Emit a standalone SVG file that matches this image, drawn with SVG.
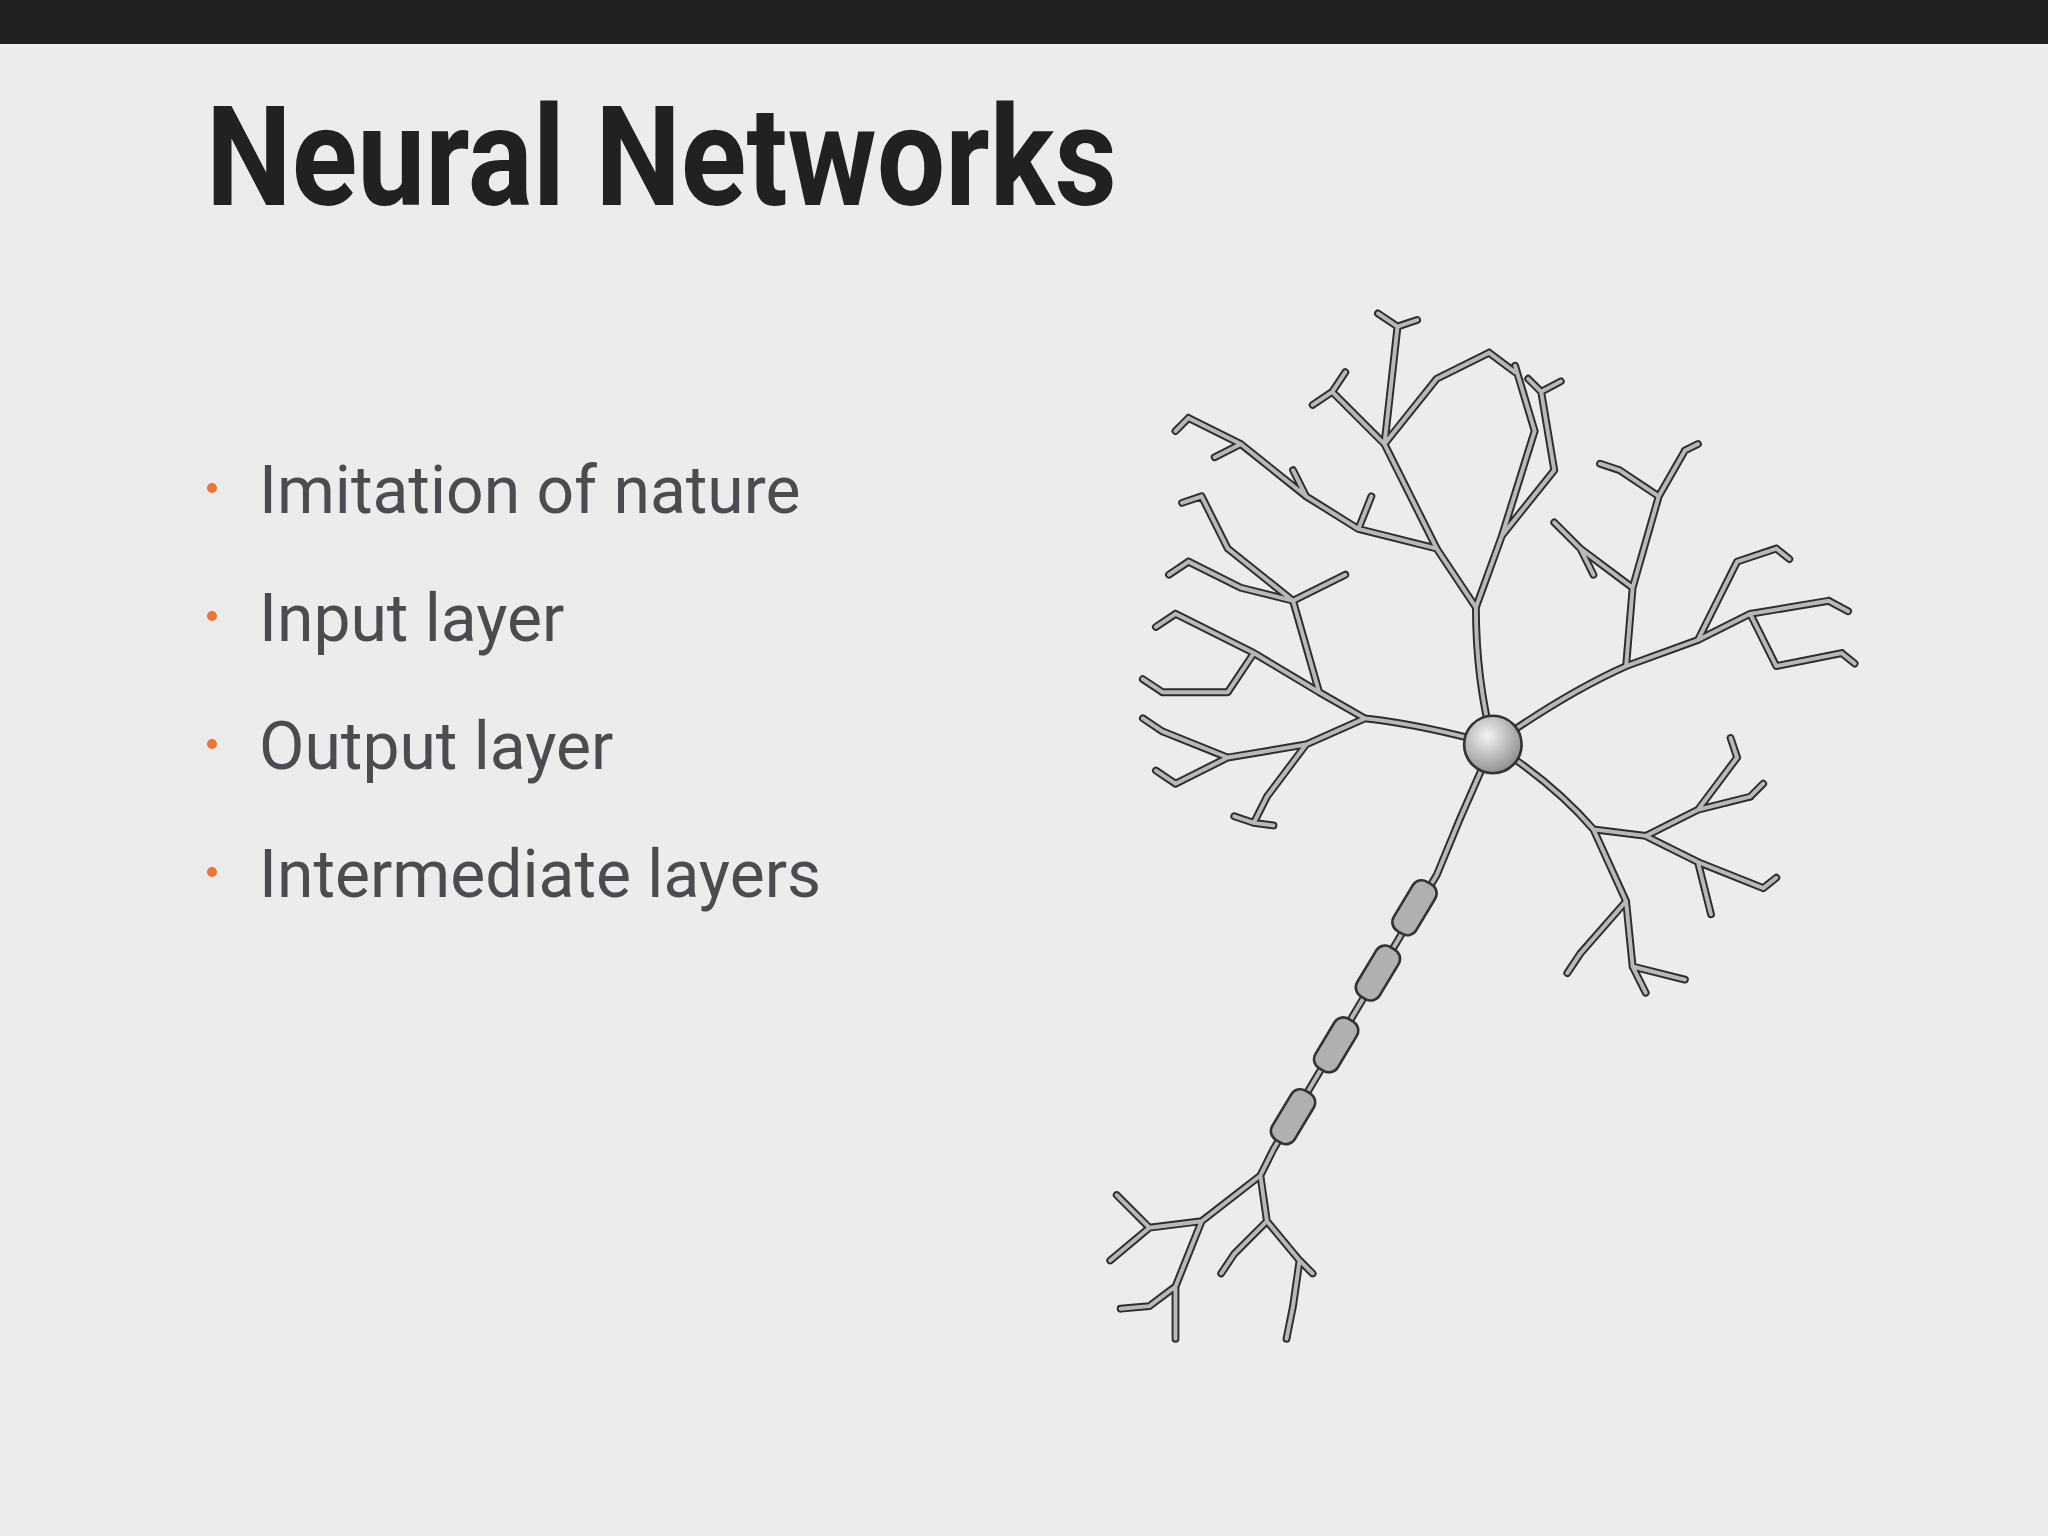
<svg xmlns="http://www.w3.org/2000/svg" width="2048" height="1536" viewBox="0 0 2048 1536">
<style>
.t{font-family:Roboto,"Liberation Sans",sans-serif}
.b{font-size:66px;fill:#4d4b4f}
.d{fill:#e8743a}
.br{fill:none;stroke-linecap:round;stroke-linejoin:round}
</style>
<defs>
<radialGradient id="sg" cx="0.4" cy="0.35" r="0.7"><stop offset="0" stop-color="#f4f4f4"/><stop offset="1" stop-color="#8a8a8a"/></radialGradient>
<g id="tree">
<path d="M1143,570 Q1130,520 1130,465 L1100,420 L1060,340 L1070,250 M1130,465 L1150,410 L1175,330 M1100,420 L1040,405 L1000,380 L950,340 L910,320 M1060,340 L1020,300 M1060,340 L1100,290 L1140,270 M1150,410 L1190,360 L1180,300 M1175,330 L1160,280 M1070,250 L1055,240 M1070,250 L1085,245 M1020,300 L1005,310 M1020,300 L1030,285 M1140,270 L1160,285 M1180,300 L1170,290 M1180,300 L1195,292 M950,340 L930,350 M910,320 L900,330 M1000,380 L990,360 M1040,405 L1050,380"/>
<path d="M1143,570 Q1090,555 1045,550 L1010,530 L990,460 L940,420 M1010,530 L960,500 L900,470 M1045,550 L1000,570 L940,580 L890,560 M1000,570 L970,610 L960,630 M990,460 L950,450 L910,430 M940,420 L920,380 M960,500 L940,530 L890,530 M940,580 L900,600 M920,380 L905,385 M900,470 L885,480 M890,530 L875,520 M890,560 L875,550 M900,600 L885,590 M960,630 L945,625 M960,630 L975,632 M910,430 L895,440 M990,460 L1030,440"/>
<path d="M1143,570 Q1200,530 1245,510 L1250,450 L1270,380 L1290,345 M1250,450 L1210,420 L1190,400 M1245,510 L1300,490 L1340,470 L1400,460 M1300,490 L1330,430 L1360,420 M1270,380 L1240,360 M1340,470 L1360,510 L1410,500 M1210,420 L1220,440 M1290,345 L1300,340 M1240,360 L1225,355 M1400,460 L1415,468 M1410,500 L1420,508 M1360,420 L1370,428"/>
<path d="M1143,570 Q1190,600 1220,635 L1260,640 L1300,620 L1330,580 M1260,640 L1300,660 L1350,680 M1220,635 L1245,690 L1250,740 L1260,760 M1245,690 L1210,730 L1200,745 M1300,620 L1340,610 M1300,660 L1310,700 M1250,740 L1290,750 M1350,680 L1360,672 M1330,580 L1325,565 M1340,610 L1350,600"/>
<path d="M1143,570 Q1120,620 1100,670 L975,880 L965,900 L920,935 L880,940 L855,915 M920,935 L900,985 L880,1000 L858,1002 M900,985 L900,1025 M965,900 L970,935 L945,960 L935,975 M970,935 L995,965 L990,1000 L985,1025 M995,965 L1005,975 M880,940 L850,965"/>
</g>
<rect id="my" x="-22" y="-10" width="44" height="20" rx="8"/>
</defs>
<rect width="2048" height="1536" fill="#ececed"/>
<rect width="2048" height="44" fill="#212121"/>
<text class="t" x="206" y="205" font-size="140" font-weight="700" fill="#212121" textLength="911" lengthAdjust="spacingAndGlyphs">Neural Networks</text>
<g id="bullets">
<circle class="d" cx="212" cy="488" r="5"/><text class="t b" x="259" y="513">Imitation of nature</text>
<circle class="d" cx="212" cy="616" r="5"/><text class="t b" x="259" y="641">Input layer</text>
<circle class="d" cx="212" cy="744" r="5"/><text class="t b" x="259" y="769">Output layer</text>
<circle class="d" cx="212" cy="872" r="5"/><text class="t b" x="259" y="897">Intermediate layers</text>
</g>
<g id="neuron" transform="scale(1.3061)">
<use href="#tree" class="br" stroke="#2e2e2e" stroke-width="6"/>
<use href="#tree" class="br" stroke="#b8b8b8" stroke-width="3"/>
<g fill="#b0b0b0" stroke="#333" stroke-width="2">
<use href="#my" transform="translate(1083,695) rotate(121)"/>
<use href="#my" transform="translate(1055,745) rotate(121)"/>
<use href="#my" transform="translate(1023,800) rotate(121)"/>
<use href="#my" transform="translate(990,855) rotate(121)"/>
</g>
<circle cx="1143" cy="570" r="22" fill="url(#sg)" stroke="#333" stroke-width="2"/>
</g>
</svg>
